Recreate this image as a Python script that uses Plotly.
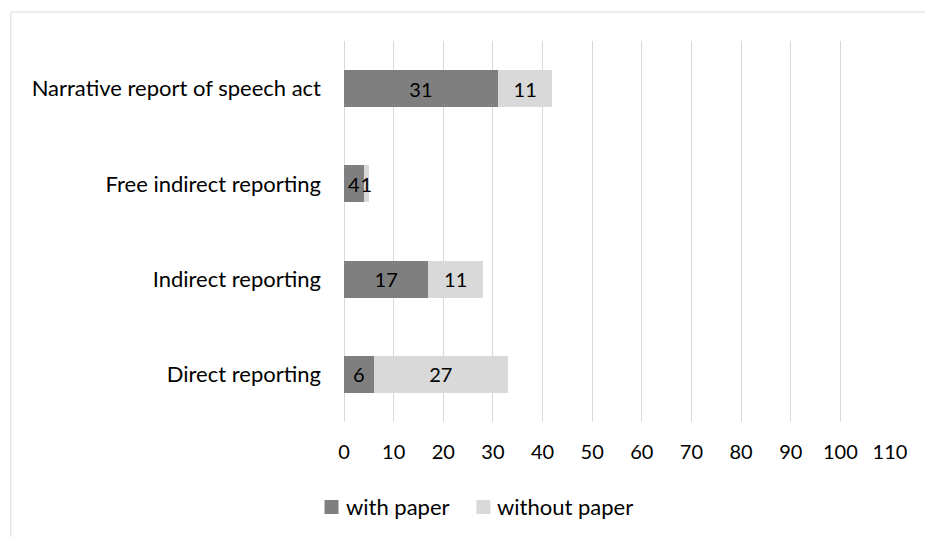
import plotly.graph_objects as go

# Reporting categories, listed bottom to top
categories = ["Direct reporting", "Indirect reporting", "Free indirect reporting",
              "Narrative report of speech act"]
with_paper = [6, 17, 4, 31]
without_paper = [27, 11, 1, 11]
x_ticks = [0, 10, 20, 30, 40, 50, 60, 70, 80, 90, 100, 110]
series_names = ["with paper", "without paper"]
series_colors = ["#7f7f7f", "#d9d9d9"]

FONT = "Lato, Open Sans, sans-serif"
TEXT_COLOR = "#000000"
GRID = "#d9d9d9"
LABEL_SIZE = 22
NUM_SIZE = 20

fig = go.Figure()
for name, color, values in zip(series_names, series_colors, [with_paper, without_paper]):
    fig.add_trace(go.Bar(
        y=categories, x=values, orientation="h", name=name,
        marker=dict(color=color, line=dict(width=0)),
        text=[str(v) for v in values], textposition="inside",
        insidetextanchor="middle",
        textfont=dict(family=FONT, size=NUM_SIZE, color=TEXT_COLOR),
        hoverinfo="x+name", showlegend=False,
    ))

W, H = 925, 537
ml, mr, mt, mb = 343.5, 35, 41, 115
pw, ph = W - ml - mr, H - mt - mb

def px_x(v):
    return (v - ml) / pw

def px_y(v):
    return (H - mb - v) / ph

# Outer frame: top and left edges of the chart box
frame = dict(
    type="path", xref="paper", yref="paper",
    path=(f"M {px_x(W + 50)} {px_y(12)} L {px_x(10)} {px_y(12)} "
          f"L {px_x(10)} {px_y(H + 50)}"),
    line=dict(color=GRID, width=1), layer="below",
)

# Legend drawn as swatches with text beside them
legend_shapes, legend_notes = [], []
swatch_left = [324, 476]
for name, color, left in zip(series_names, series_colors, swatch_left):
    legend_shapes.append(dict(
        type="rect", xref="paper", yref="paper",
        x0=px_x(left), x1=px_x(left + 14), y0=px_y(514), y1=px_y(500),
        line=dict(width=0), fillcolor=color,
    ))
    legend_notes.append(dict(
        xref="paper", yref="paper", x=px_x(left + 19), y=px_y(507),
        xanchor="left", yanchor="middle", showarrow=False, text=name,
        font=dict(family=FONT, size=LABEL_SIZE, color=TEXT_COLOR),
    ))

fig.update_layout(
    width=W, height=H,
    margin=dict(l=ml, r=mr, t=mt, b=mb, pad=0),
    barmode="stack", bargap=0.61,
    plot_bgcolor="white", paper_bgcolor="white",
    font=dict(family=FONT, size=LABEL_SIZE, color=TEXT_COLOR),
    uniformtext=dict(mode="show", minsize=NUM_SIZE),
    showlegend=False,
    xaxis=dict(
        range=[0, 110], tickvals=x_ticks, ticktext=[str(t) for t in x_ticks],
        showgrid=True, gridcolor=GRID, gridwidth=1,
        zeroline=True, zerolinecolor=GRID, zerolinewidth=1,
        showline=False, ticks="", ticklabelstandoff=16,
        tickfont=dict(family=FONT, size=NUM_SIZE, color=TEXT_COLOR),
        fixedrange=True,
    ),
    yaxis=dict(
        categoryorder="array", categoryarray=categories,
        showgrid=False, zeroline=False, showline=False, ticks="",
        ticklabelstandoff=22,
        tickfont=dict(family=FONT, size=LABEL_SIZE, color=TEXT_COLOR),
        fixedrange=True,
    ),
    shapes=[frame] + legend_shapes,
    annotations=legend_notes,
)

fig.write_html("out.html")
